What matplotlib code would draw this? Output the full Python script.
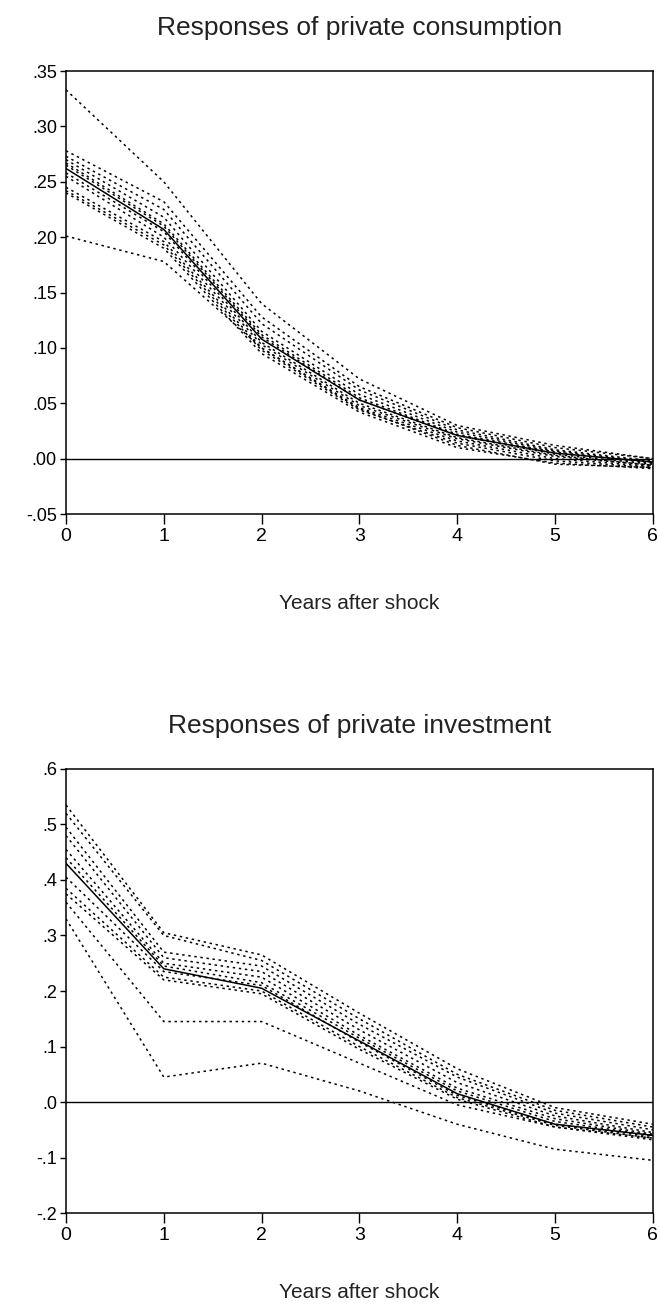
import numpy as np
import matplotlib.pyplot as plt
from matplotlib.ticker import FuncFormatter

# Years after the shock
years = [0, 1, 2, 3, 4, 5, 6]

# Private consumption: point estimate and the alternative specifications
cons_main = [0.262, 0.207, 0.108, 0.053, 0.021, 0.005, -0.003]
cons_alt = [
    [0.333, 0.250, 0.140, 0.072, 0.030, 0.012, 0.000],
    [0.278, 0.232, 0.128, 0.065, 0.028, 0.010, 0.000],
    [0.273, 0.225, 0.122, 0.062, 0.026, 0.008, -0.002],
    [0.270, 0.218, 0.115, 0.058, 0.024, 0.007, -0.003],
    [0.267, 0.212, 0.112, 0.055, 0.022, 0.006, -0.004],
    [0.265, 0.210, 0.110, 0.053, 0.021, 0.004, -0.005],
    [0.258, 0.205, 0.105, 0.050, 0.019, 0.003, -0.006],
    [0.255, 0.200, 0.103, 0.048, 0.018, 0.002, -0.006],
    [0.245, 0.196, 0.100, 0.046, 0.016, 0.000, -0.007],
    [0.242, 0.193, 0.098, 0.044, 0.014, -0.002, -0.008],
    [0.240, 0.190, 0.095, 0.042, 0.010, -0.004, -0.009],
    [0.201, 0.178, 0.100, 0.045, 0.012, -0.005, -0.008],
]

# Private investment
inv_main = [0.430, 0.240, 0.205, 0.110, 0.015, -0.040, -0.060]
inv_alt = [
    [0.535, 0.305, 0.265, 0.160, 0.060, -0.010, -0.040],
    [0.520, 0.300, 0.255, 0.150, 0.050, -0.015, -0.045],
    [0.495, 0.270, 0.245, 0.140, 0.045, -0.020, -0.050],
    [0.480, 0.260, 0.235, 0.130, 0.035, -0.025, -0.055],
    [0.455, 0.250, 0.225, 0.120, 0.025, -0.030, -0.058],
    [0.440, 0.245, 0.215, 0.115, 0.020, -0.035, -0.060],
    [0.405, 0.235, 0.210, 0.108, 0.012, -0.040, -0.062],
    [0.385, 0.225, 0.200, 0.100, 0.008, -0.042, -0.065],
    [0.375, 0.220, 0.195, 0.095, 0.005, -0.045, -0.068],
    [0.360, 0.145, 0.145, 0.070, -0.005, -0.045, -0.065],
    [0.330, 0.045, 0.070, 0.020, -0.040, -0.085, -0.105],
]

cons_ticks = [-0.05, 0.0, 0.05, 0.10, 0.15, 0.20, 0.25, 0.30, 0.35]
inv_ticks = [-0.2, -0.1, 0.0, 0.1, 0.2, 0.3, 0.4, 0.5, 0.6]

plt.rcParams['font.family'] = ['Liberation Sans', 'DejaVu Sans']


def fmt(decimals):
    def f(v, pos):
        s = f"{v:.{decimals}f}"
        return s.replace("0.", ".", 1)
    return FuncFormatter(f)


def panel(ax, main, alt, ticks, decimals, title, xpad):
    for row in alt:
        ax.plot(years, row, color='black', lw=1.1, ls=(0, (1.6, 2.4)))
    ax.plot(years, main, color='black', lw=1.1)
    ax.axhline(0, color='black', lw=1.0)
    ax.set_xlim(0, 6)
    ax.set_ylim(ticks[0], ticks[-1])
    ax.set_xticks(years)
    ax.set_yticks(ticks)
    ax.yaxis.set_major_formatter(fmt(decimals))
    ax.tick_params(axis='x', direction='out', length=7, width=1, pad=3,
                   labelsize=14, colors='black')
    ax.tick_params(axis='y', direction='out', length=4.5, width=1, pad=2,
                   labelsize=13, colors='black')
    for s in ax.spines.values():
        s.set_linewidth(1.1)
    ax.set_title(title, fontsize=19, pad=26, color='#222222')
    ax.set_xlabel('Years after shock', fontsize=15, labelpad=xpad,
                  color='#222222')


fig = plt.figure(figsize=(6.6, 13.08), dpi=100)
ax1 = fig.add_axes([0.1, 0.607, 0.889, 0.3387])
ax2 = fig.add_axes([0.1, 0.0726, 0.889, 0.3395])

panel(ax1, cons_main, cons_alt, cons_ticks, 2,
      'Responses of private consumption', 35)
panel(ax2, inv_main, inv_alt, inv_ticks, 1,
      'Responses of private investment', 28)

fig.savefig('out.png', dpi=100)
